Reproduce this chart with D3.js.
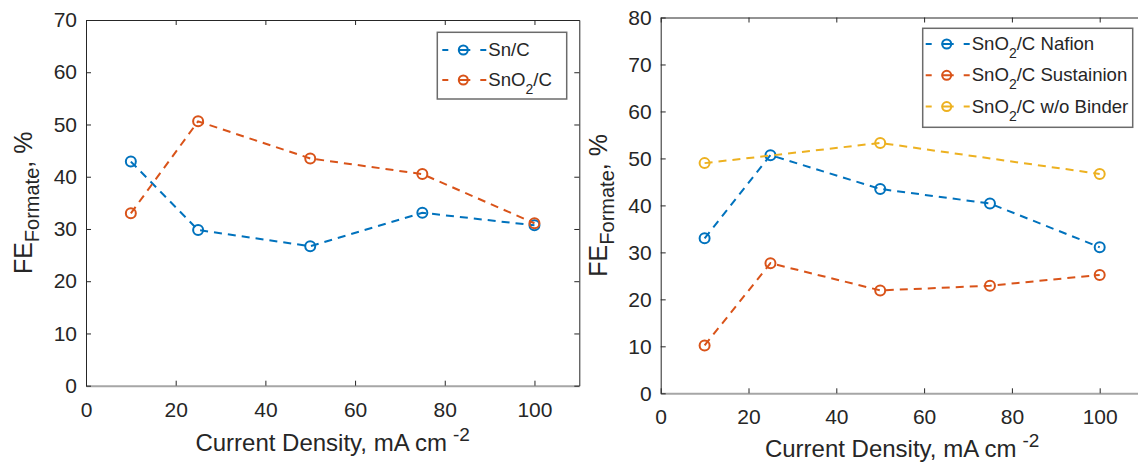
<!DOCTYPE html>
<html>
<head>
<meta charset="utf-8">
<script src="https://cdn.jsdelivr.net/npm/d3@7"></script>
<style>
  body { margin: 0; background: #fff; }
  text { font-family: "Liberation Sans", Arial, sans-serif; fill: #262626; }
</style>
</head>
<body>
<svg id="fig" width="1138" height="462"></svg>
<script>
// current density values (mA cm^-2)
const currentDensity = [10, 25, 50, 75, 100];

// left panel: FE formate, %
const snC = [42.9, 29.8, 26.7, 33.1, 30.7];
const sno2C = [33.0, 50.6, 43.5, 40.5, 31.1];

// right panel
const sno2Nafion = [33.0, 50.7, 43.5, 40.4, 31.1];
const sno2Sustainion = [10.2, 27.7, 21.9, 22.9, 25.2];
const binderDensity = [10, 50, 100];
const sno2NoBinder = [49.0, 53.3, 46.7];

const xTicks = [0, 20, 40, 60, 80, 100];
const leftYTicks = [0, 10, 20, 30, 40, 50, 60, 70];
const rightYTicks = [0, 10, 20, 30, 40, 50, 60, 70, 80];

const blue = "#0072BD", orange = "#D95319", yellow = "#EDB120";

const svg = d3.select("#fig");
svg.append("rect").attr("width", 1138).attr("height", 462).attr("fill", "#fff");

function drawPanel(p) {
    const x = d3.scaleLinear().domain([0, 110]).range([p.left, p.right]);
    const y = d3.scaleLinear().domain([0, p.yMax]).range([p.bottom, p.top]);
    const g = svg.append("g");

    // axes, ticks pointing inward like matlab
    const bottom = g.append("g").attr("transform", `translate(0,${p.bottom})`)
        .call(d3.axisBottom(x).tickValues(xTicks).tickSize(-5).tickSizeOuter(0).tickPadding(16));
    g.append("g").attr("transform", `translate(0,${p.top})`)
        .call(d3.axisTop(x).tickValues(xTicks).tickSize(-5).tickSizeOuter(0).tickFormat(""));
    g.append("g").attr("transform", `translate(${p.left},0)`)
        .call(d3.axisLeft(y).tickValues(p.yTicks).tickSize(-5).tickSizeOuter(0).tickPadding(9));
    g.append("g").attr("transform", `translate(${p.right},0)`)
        .call(d3.axisRight(y).tickValues(p.yTicks).tickSize(-5).tickSizeOuter(0).tickFormat(""));

    g.selectAll(".tick line").attr("stroke", "#262626");
    g.selectAll(".domain").attr("stroke", "#262626");
    bottom.select(".domain").attr("stroke", "#a6a6a6").attr("stroke-width", 2);
    g.selectAll(".tick text").style("font-size", "21px").attr("fill", "#262626");

    // x label
    const xl = g.append("text")
        .attr("x", (p.left + p.right) / 2)
        .attr("y", p.xLabelY)
        .attr("text-anchor", "middle")
        .style("font-size", "24px");
    xl.append("tspan").text("Current Density, mA cm");
    xl.append("tspan").attr("dx", 6).attr("dy", -10).style("font-size", "19px").text("-2");

    // y label
    const yl = g.append("text")
        .attr("transform", `translate(${p.yLabelX},${(p.top + p.bottom) / 2}) rotate(-90)`)
        .attr("text-anchor", "middle")
        .style("font-size", "25px");
    yl.append("tspan").text("FE");
    yl.append("tspan").attr("dy", 7).style("font-size", "20px").text("Formate");
    yl.append("tspan").attr("dy", -7).text(", %");

    // series
    const line = d3.line().x(d => x(d[0])).y(d => y(d[1]));
    p.series.forEach(s => {
        const pts = s.xs.map((v, i) => [v, s.ys[i]]);
        g.append("path").datum(pts)
            .attr("d", line)
            .attr("fill", "none")
            .attr("stroke", s.color)
            .attr("stroke-width", 2)
            .attr("stroke-dasharray", "8,6");
        g.selectAll(null).data(pts).join("circle")
            .attr("cx", d => x(d[0]))
            .attr("cy", d => y(d[1]))
            .attr("r", 5)
            .attr("fill", "none")
            .attr("stroke", s.color)
            .attr("stroke-width", 2);
    });

    // legend
    const L = p.legend;
    const lg = g.append("g");
    lg.append("rect")
        .attr("x", L.x).attr("y", L.y)
        .attr("width", L.w).attr("height", L.h)
        .attr("fill", "#fff").attr("stroke", "#6b6b6b").attr("stroke-width", 1.5);
    p.series.forEach((s, i) => {
        const cy = L.y + L.first + i * L.step;
        const lx = L.x + L.pad;
        lg.append("line")
            .attr("x1", lx).attr("x2", lx + 44).attr("y1", cy).attr("y2", cy)
            .attr("stroke", s.color).attr("stroke-width", 2)
            .attr("stroke-dasharray", "6,10,12,10,6");
        lg.append("circle").attr("cx", lx + 21).attr("cy", cy).attr("r", 4.5)
            .attr("fill", "none").attr("stroke", s.color).attr("stroke-width", 2);
        const t = lg.append("text").attr("x", lx + 46).attr("y", cy + 6).style("font-size", "18.6px");
        s.label.forEach((part, j) => {
            const ts = t.append("tspan").text(part);
            if (j % 2 === 1) ts.attr("dy", 8).style("font-size", "14px");
            else if (j > 0) ts.attr("dy", -8);
        });
    });
}

drawPanel({
    left: 86, right: 579.3, top: 20, bottom: 385.7, yMax: 70, yTicks: leftYTicks,
    xLabelY: 451, yLabelX: 32,
    legend: { x: 437.3, y: 32.3, w: 129.4, h: 66.7, first: 17.7, step: 30, pad: 5 },
    series: [
        { xs: currentDensity, ys: snC, color: blue, label: ["Sn/C"] },
        { xs: currentDensity, ys: sno2C, color: orange, label: ["SnO", "2", "/C"] }
    ]
});

drawPanel({
    left: 660.7, right: 1143.6, top: 17.5, bottom: 393.3, yMax: 80, yTicks: rightYTicks,
    xLabelY: 457, yLabelX: 607,
    legend: { x: 922.7, y: 28.3, w: 210, h: 99, first: 15.7, step: 31.3, pad: 3 },
    series: [
        { xs: currentDensity, ys: sno2Nafion, color: blue, label: ["SnO", "2", "/C Nafion"] },
        { xs: currentDensity, ys: sno2Sustainion, color: orange, label: ["SnO", "2", "/C Sustainion"] },
        { xs: binderDensity, ys: sno2NoBinder, color: yellow, label: ["SnO", "2", "/C w/o Binder"] }
    ]
});
</script>
</body>
</html>
